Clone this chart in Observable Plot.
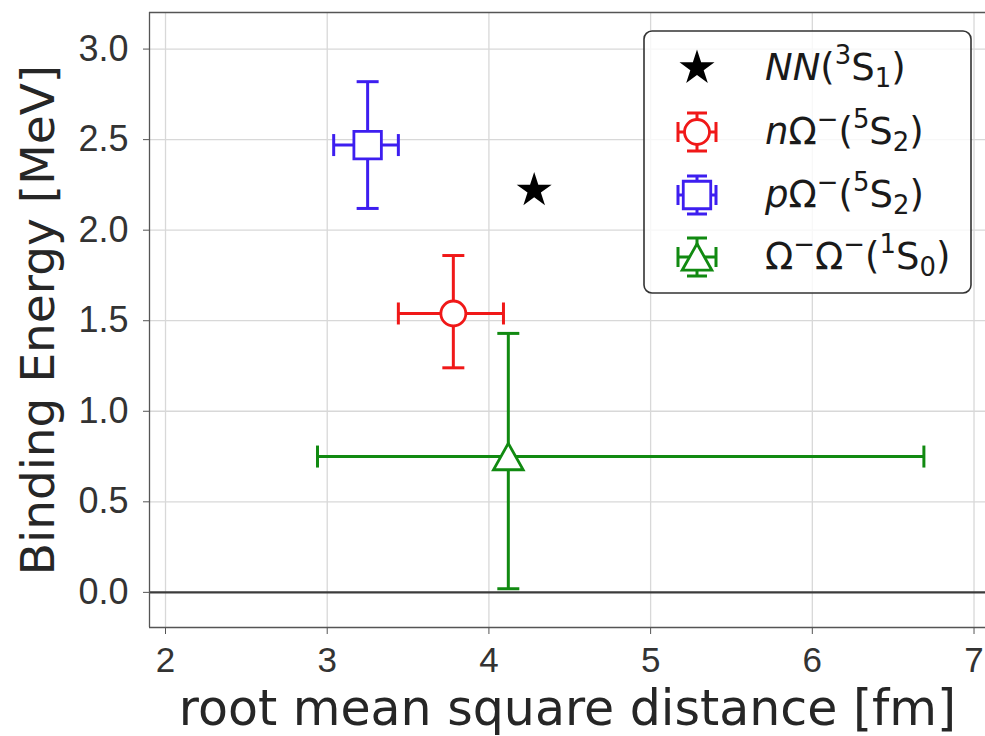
<!DOCTYPE html>
<html><head><meta charset="utf-8">
<script src="https://cdn.jsdelivr.net/npm/d3@7"></script>
<script src="https://cdn.jsdelivr.net/npm/@observablehq/plot@0.6"></script>
<style>body{margin:0;background:#fff}#chart svg{display:block}</style>
</head><body><div id="chart"></div>
<script>
// ---- data ----
const seriesNames = ["nΩ−(5S2)", "pΩ−(5S2)", "Ω−Ω−(1S0)"];
const seriesColors = ["#f01818", "#3d1ef0", "#118a11"];
const rmsX   = [3.78, 3.25, 4.12];
const rmsXlo = [3.44, 3.04, 2.94];
const rmsXhi = [4.09, 3.44, 6.69];
const bindY   = [1.54, 2.47, 0.75];
const bindYlo = [1.24, 2.12, 0.02];
const bindYhi = [1.86, 2.82, 1.43];
const nnX = [4.28];
const nnY = [2.22];
const xTicks = [2, 3, 4, 5, 6, 7];
const yTicks = [0, 0.5, 1.0, 1.5, 2.0, 2.5, 3.0];
const xLabel = "root mean square distance [fm]";
const yLabel = "Binding Energy [MeV]";
const legendLabels = [
  [["NN","i"],["(",""],["3","sup"],["S",""],["1","sub"],[")",""]],
  [["n","i"],["Ω",""],["−","sup"],["(",""],["5","sup"],["S",""],["2","sub"],[")",""]],
  [["p","i"],["Ω",""],["−","sup"],["(",""],["5","sup"],["S",""],["2","sub"],[")",""]],
  [["Ω",""],["−","sup"],["Ω",""],["−","sup"],["(",""],["1","sup"],["S",""],["0","sub"],[")",""]]
];

const rows = seriesNames.map((name, i) => ({
  name, color: seriesColors[i],
  x: rmsX[i], xlo: rmsXlo[i], xhi: rmsXhi[i],
  y: bindY[i], ylo: bindYlo[i], yhi: bindYhi[i]
}));
const nn = nnX.map((x, i) => ({x, y: nnY[i]}));

// custom symbols
const capH = {draw(c, s){const h = Math.sqrt(s/Math.PI); c.moveTo(-h,0); c.lineTo(h,0);}};
const capV = {draw(c, s){const h = Math.sqrt(s/Math.PI); c.moveTo(0,-h); c.lineTo(0,h);}};
const triUp = {draw(c, s){const r = Math.sqrt(s/Math.PI); const hh = 1.2*r, hw = 1.35*r;
  c.moveTo(0,-hh); c.lineTo(hw,hh); c.lineTo(-hw,hh); c.closePath();}};

const xDomain = [1.901, 7.071];
const yDomain = [-0.194, 3.202];
const LW = 3, CAP = 11;
const symbols = ["circle", "square", triUp];
const symR = [12.5, 15.5, 11];
const tickFont = "Liberation Sans, Arial, sans-serif";

const marks = [
  Plot.gridX(xTicks, {stroke: "#d8d8d8", strokeOpacity: 1, strokeWidth: 1.3}),
  Plot.gridY(yTicks, {stroke: "#d8d8d8", strokeOpacity: 1, strokeWidth: 1.3}),
  Plot.ruleY([0], {stroke: "#3c3c3c", strokeWidth: 2.4}),
  Plot.ruleX([xDomain[0]], {stroke: "#555", strokeWidth: 1.3}),
  Plot.ruleY([yDomain[0], yDomain[1]], {stroke: "#555", strokeWidth: 1.3}),
  Plot.axisX(xTicks, {tickSize: 7, tickPadding: 13, fontSize: 35, fontFamily: tickFont, stroke: "#555", fill: "#333", tickFormat: d => String(d), label: null}),
  Plot.axisY(yTicks, {tickSize: 6, tickPadding: 15, fontSize: 36, fontFamily: tickFont, stroke: "#555", fill: "#333", tickFormat: d3.format(".1f"), label: null}),
  Plot.text([xLabel], {text: d => d, frameAnchor: "bottom", textAnchor: "middle", lineAnchor: "bottom", dy: 97, fontSize: 49, fill: "#262626"}),
  Plot.text([yLabel], {text: d => d, frameAnchor: "left", textAnchor: "middle", rotate: -90, lineAnchor: "bottom", dx: -96, dy: 0, fontSize: 47, fill: "#262626"}),
  Plot.ruleY(rows, {y: "y", x1: "xlo", x2: "xhi", stroke: "color", strokeWidth: LW}),
  Plot.ruleX(rows, {x: "x", y1: "ylo", y2: "yhi", stroke: "color", strokeWidth: LW}),
  Plot.dot(rows, {x: "xlo", y: "y", symbol: capV, r: CAP, stroke: "color", strokeWidth: LW}),
  Plot.dot(rows, {x: "xhi", y: "y", symbol: capV, r: CAP, stroke: "color", strokeWidth: LW}),
  Plot.dot(rows, {x: "x", y: "ylo", symbol: capH, r: CAP, stroke: "color", strokeWidth: LW}),
  Plot.dot(rows, {x: "x", y: "yhi", symbol: capH, r: CAP, stroke: "color", strokeWidth: LW}),
  ...rows.map((d, i) => Plot.dot([d], {x: "x", y: "y", symbol: symbols[i], r: symR[i], fill: "white", stroke: "color", strokeWidth: 2.8})),
  Plot.dot(nn, {x: "x", y: "y", symbol: "star", r: 11, fill: "black"})
];

const svgEl = Plot.plot({
  width: 985, height: 736,
  marginLeft: 149, marginTop: 12, marginBottom: 109, marginRight: 0,
  style: {fontFamily: "DejaVu Sans", background: "white", overflow: "visible"},
  x: {domain: xDomain, axis: null},
  y: {domain: yDomain, axis: null},
  color: {type: "identity"},
  marks
});
document.getElementById("chart").append(svgEl);

// ---- legend ----
const svg = d3.select(svgEl);
const lg = svg.append("g").attr("font-family", "DejaVu Sans").attr("text-anchor", "start");
lg.append("rect").attr("x", 644).attr("y", 31).attr("width", 327).attr("height", 262).attr("rx", 8)
  .attr("fill", "white").attr("fill-opacity", 0.8).attr("stroke", "#333").attr("stroke-width", 1.6);
const rowY = [68, 132, 195, 257];
const mx = 697, fs = 37;
const symPath = (type, r) => d3.symbol(type, Math.PI * r * r)();
lg.append("path").attr("transform", `translate(${mx},${rowY[0]})`).attr("d", symPath(d3.symbolStar, 11)).attr("fill", "black");
const legSyms = [d3.symbolCircle, d3.symbolSquare, triUp];
rows.forEach((d, i) => {
  const g = lg.append("g").attr("transform", `translate(${mx},${rowY[i+1]})`)
    .attr("stroke", d.color).attr("stroke-width", LW).attr("fill", "none");
  const e = 19, c = 10;
  g.append("path").attr("d", `M${-e},0H${e}M0,${-e}V${e}M${-e},${-c}V${c}M${e},${-c}V${c}M${-c},${-e}H${c}M${-c},${e}H${c}`);
  g.append("path").attr("d", symPath(legSyms[i], symR[i])).attr("fill", "white").attr("stroke-width", 2.8);
});
legendLabels.forEach((segs, i) => {
  const t = lg.append("text").attr("x", 765).attr("y", rowY[i] + 12).attr("font-size", fs).attr("fill", "#1a1a1a");
  let cur = 0;
  segs.forEach(([txt, st]) => {
    const target = st === "sup" ? -0.42 * fs : st === "sub" ? 0.2 * fs : 0;
    const ts = t.append("tspan").text(txt).attr("dy", target - cur);
    cur = target;
    if (st === "i") ts.attr("font-style", "italic");
    if (st === "sup" || st === "sub") ts.attr("font-size", fs * 0.7);
  });
});
</script></body></html>
